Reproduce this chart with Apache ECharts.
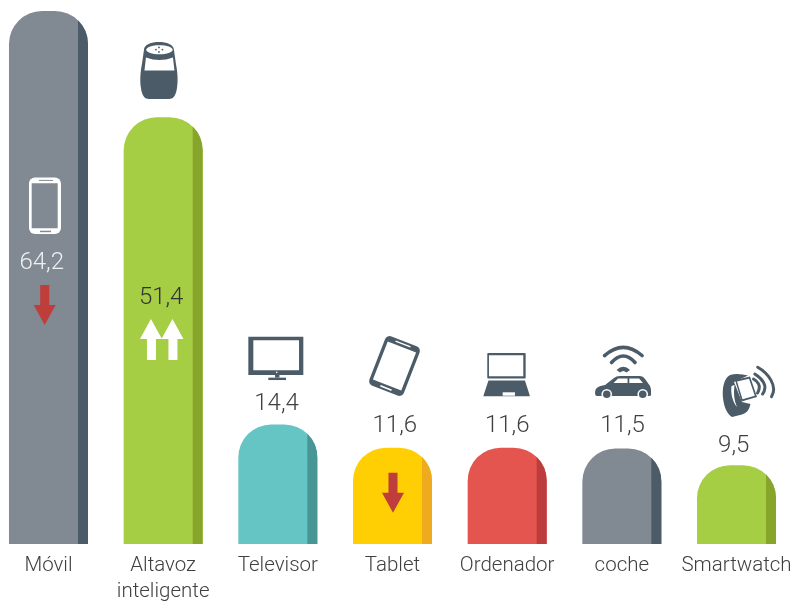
<!DOCTYPE html>
<html>
<head>
<meta charset="utf-8">
<style>html,body{margin:0;padding:0;background:#fff}#c{width:795px;height:603px}</style>
<script src="https://cdn.jsdelivr.net/npm/echarts@6/dist/echarts.min.js"></script>
</head>
<body>
<div id="c"></div>
<script>
// ---- data ----
var categories = ['Móvil', 'Altavoz\ninteligente', 'Televisor', 'Tablet', 'Ordenador', 'coche', 'Smartwatch'];
var values = [64.2, 51.4, 14.4, 11.6, 11.6, 11.5, 9.5];

// ---- styles ----
var barColors = ['#818993', '#A6CE45', '#64C5C4', '#FFCF04', '#E5554F', '#818993', '#A6CE45'];
var stripColors = ['#4B5C68', '#87A42B', '#479595', '#F0AA1D', '#BC3D3B', '#4B5C68', '#87A42B'];
var labelColors = ['#EEF0F2', '#333333', '#404040', '#404040', '#404040', '#404040', '#404040'];
// label centre, relative to band centre and bar top
var labelOffsets = [[-6.8, 252], [-2, 180.4], [-1.3, -20.8], [2.3, -21.7], [0, -21.7], [0.7, -22.5], [-2.8, -19.1]];
// decorations, relative to band centre and bar top
var decorations = [
  [['phone', -19.5, 166.5], ['down', -3.8, 274]],
  [['speaker', -23.2, -75.3], ['up2', -23.2, 201.7]],
  [['tv', -29.5, -87.8]],
  [['tablet', 2, -81.7], ['down', 0.5, 25]],
  [['laptop', -23.9, -94.7]],
  [['car', -26.8, -102.5]],
  [['watch', -14.5, -99.1]]
];
var BAR_W = 79, STRIP_W = 10, RADIUS = 33;
var DARK = '#4B5C68', GREY = '#818993', RED = '#BF3D3B', WHITE = '#FFFFFF';
var FONT = 'Roboto, "Open Sans", sans-serif';

function P(d, fill) { return { type: 'path', shape: { pathData: d }, style: { fill: fill } }; }
function S(d, stroke, w) { return { type: 'path', shape: { pathData: d }, style: { fill: 'none', stroke: stroke, lineWidth: w, lineCap: 'round' } }; }
function R(x, y, w, h, r, fill) { return { type: 'rect', shape: { x: x, y: y, width: w, height: h, r: r || 0 }, style: { fill: fill } }; }
function C(x, y, r, fill) { return { type: 'circle', shape: { cx: x, cy: y, r: r }, style: { fill: fill } }; }

var icons = {
  down: function () { return [P('M-4.5,0 L4.5,0 L4.5,20 L11,20 L0,40 L-11,20 L-4.5,20 Z', RED)]; },
  up2: function () {
    var a = function (x) { return 'M' + (x + 7) + ',41 L' + (x + 7) + ',20 L' + x + ',20 L' + (x + 11) + ',0 L' + (x + 22) + ',20 L' + (x + 16) + ',20 L' + (x + 16) + ',41 Z'; };
    return [P(a(0), WHITE), P(a(21.5), WHITE)];
  },
  phone: function () {
    return [R(0, 0, 32, 56.5, 6, WHITE), R(2.7, 5.8, 26, 45, 0, GREY), R(10, 2.4, 14, 1, 0, GREY), R(11, 53.2, 11, 1.5, 0, GREY)];
  },
  speaker: function () {
    return [
      P('M4,8 C4,-2.6 34,-2.6 34,8 L36,22 C38,32 38,40 37,46 C36,54 33,57 29,57 L9,57 C5,57 2,54 1,46 C0,40 0,32 2,22 Z', DARK),
      { type: 'ellipse', shape: { cx: 19.5, cy: 7.8, rx: 13.2, ry: 4.6 }, style: { fill: WHITE } },
      C(19, 5.5, 0.9, DARK), C(16, 7.6, 0.9, DARK), C(22.5, 7.6, 0.9, DARK), C(19, 10, 0.9, DARK),
      P('M6,15.5 Q19.5,20.5 33,15.5 L34.5,28.5 L4.5,28.5 Z', WHITE)
    ];
  },
  tv: function () {
    return [
      R(0, 0, 55, 38.3, 0, DARK), R(5, 3.5, 45.7, 30, 0, WHITE), C(28.4, 35.7, 0.8, WHITE),
      R(26.7, 38, 4.4, 3, 0, DARK), R(20, 41, 17.7, 2.4, 0, DARK)
    ];
  },
  tablet: function () {
    return [{
      type: 'group', rotation: -0.37,
      children: [
        R(-18.5, -26.5, 37, 53, 5, DARK), R(-15.2, -20.5, 30.4, 41, 0, WHITE),
        R(-8, -24.3, 16, 1.4, 0, WHITE), R(-6, 22.8, 12, 1.6, 0, WHITE)
      ]
    }];
  },
  laptop: function () {
    return [
      R(4, 0, 38.4, 25.5, 1, DARK), R(5.7, 2.3, 34.3, 21, 0, WHITE),
      P('M5.2,27.5 L41.7,27.5 L46.7,43.3 L0,43.3 Z', DARK), R(19.4, 39.3, 12.3, 3.4, 0, WHITE)
    ];
  },
  car: function () {
    return [
      S('M9.5,9.5 Q28.3,-7 47,9.5', DARK, 3.6), S('M16.5,16.5 Q28.3,3.5 40,16.5', DARK, 3.6),
      P('M21.5,24 Q28.3,17.5 35,24 L31.5,26.5 Q28.3,23.5 25,26.5 Z', DARK),
      P('M0,47 C0,42 3,40 10,39 L19,32 Q21,30 25,30 L45,30 Q48,30 50,33 L55,40 Q56,42 56,46 L56,49 Q56,50 54,50 L2,50 Q0,50 0,47 Z', DARK),
      P('M18.5,37 L23,32.5 L32.5,32.5 L32.5,37 Z', WHITE), P('M34.3,32.5 L44,32.5 L48,37 L34.3,37 Z', WHITE),
      C(11.7, 48.3, 5.3, WHITE), C(11.7, 48.3, 3.8, DARK), C(47.7, 48.3, 5.3, WHITE), C(47.7, 48.3, 3.8, DARK)
    ];
  },
  watch: function () {
    return [
      P('M8,9 C2,12 0,22 1,32 C2,42 6,49 10,51 L20,48.5 C25,47 27,44 28.5,38 L20,36 L12,16 L26,9.5 C20,8 14,7 8,9 Z', DARK),
      P('M13,14 L28,10.5 L35,31 L19.5,35.5 Z', DARK),
      P('M15,15.5 L27,12.8 L32.8,29.8 L20.5,33.3 Z', WHITE),
      P('M9.5,20 C8.5,27 10.5,36 15,41 C12,34 11.5,27 12.5,19 Z', WHITE),
      S('M35.7,1.2 C46,7 56,20 49.5,30.7', DARK, 3),
      S('M32.8,8 C39,12 47,19 40.5,28', DARK, 3),
      S('M31.5,13 C35,15 40,19.5 35.5,27', DARK, 3)
    ];
  }
};

function renderBar(params, api) {
  var i = api.value(0), v = api.value(1);
  var topPt = api.coord([i, v]), basePt = api.coord([i, 0]);
  var cx = topPt[0], top = topPt[1], bottom = basePt[1];
  var left = cx - BAR_W / 2, right = cx + BAR_W / 2;
  var xs = right - STRIP_W;
  var d = RADIUS - STRIP_W;
  var ys = top + RADIUS - Math.sqrt(RADIUS * RADIUS - d * d);
  var children = [
    { type: 'rect', shape: { x: left, y: top, width: BAR_W, height: bottom - top, r: [RADIUS, RADIUS, 0, 0] }, style: { fill: barColors[i] } },
    P('M' + xs + ',' + ys + ' A' + RADIUS + ',' + RADIUS + ' 0 0 1 ' + right + ',' + (top + RADIUS) + ' L' + right + ',' + bottom + ' L' + xs + ',' + bottom + ' Z', stripColors[i])
  ];
  decorations[i].forEach(function (dec) {
    children.push({ type: 'group', x: cx + dec[1], y: top + dec[2], children: icons[dec[0]]() });
  });
  children.push({
    type: 'text',
    style: {
      text: String(v).replace('.', ','),
      x: cx + labelOffsets[i][0], y: top + labelOffsets[i][1],
      fill: labelColors[i], font: '300 24px ' + FONT,
      textAlign: 'center', textVerticalAlign: 'middle'
    }
  });
  return { type: 'group', children: children };
}

var chart = echarts.init(document.getElementById('c'), null, { renderer: 'canvas' });
chart.setOption({
  animation: false,
  backgroundColor: '#ffffff',
  grid: { left: -8.85, width: 802.7, top: 11, bottom: 59, containLabel: false, outerBoundsMode: 'none' },
  xAxis: {
    type: 'category', data: categories,
    axisLine: { show: false }, axisTick: { show: false },
    axisLabel: { interval: 0, margin: 9, color: '#404040', fontFamily: FONT, fontWeight: 300, fontSize: 20.5, lineHeight: 26 }
  },
  yAxis: { type: 'value', min: 0, max: 64.2, show: false, splitLine: { show: false } },
  series: [{
    type: 'custom',
    renderItem: renderBar,
    encode: { x: 0, y: 1 },
    data: values.map(function (v, i) { return [i, v]; })
  }]
});
</script>
</body>
</html>
